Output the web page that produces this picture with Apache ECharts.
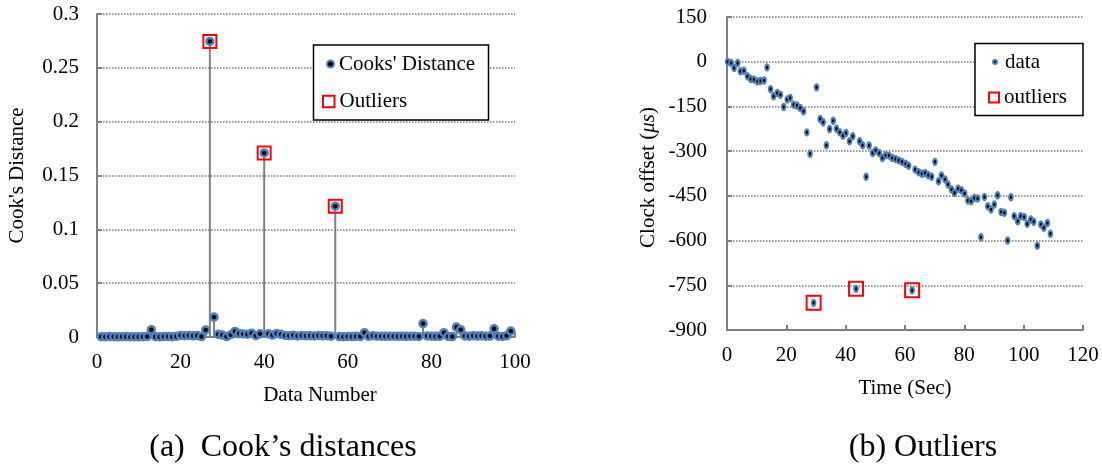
<!DOCTYPE html>
<html>
<head>
<meta charset="utf-8">
<script src="https://cdn.jsdelivr.net/npm/echarts@6/dist/echarts.min.js"></script>
<style>
  html, body { margin: 0; padding: 0; background: #fff; }
  #chart { width: 1102px; height: 470px; }
</style>
</head>
<body>
<div id="chart"></div>
<script>
const FONT = "'Liberation Serif', 'Times New Roman', serif";

// (a) Cook's distances, data number 1..99
const cookX = [];
for (let i = 1; i <= 99; i++) cookX.push(i);
const cookD = [
  0.0003, 0.0002, 0.0004, 0.0003, 0.0002, 0.0003, 0.0004, 0.0002, 0.0003, 0.0002,
  0.0003, 0.0004, 0.0068, 0.0003, 0.0002, 0.0004, 0.0005, 0.0003, 0.0006, 0.0015,
  0.0012, 0.0014, 0.0011, 0.0013, 0.0004, 0.0066, 0.2745, 0.0185, 0.0025, 0.0018,
  0.0004, 0.0021, 0.0052, 0.0032, 0.0028, 0.0026, 0.0035, 0.0012, 0.0030, 0.1710,
  0.0030, 0.0018, 0.0032, 0.0025, 0.0014, 0.0012, 0.0016, 0.0010, 0.0013, 0.0011,
  0.0012, 0.0010, 0.0013, 0.0011, 0.0012, 0.0008, 0.1215, 0.0004, 0.0003, 0.0005,
  0.0004, 0.0006, 0.0005, 0.0040, 0.0006, 0.0012, 0.0008, 0.0007, 0.0006, 0.0008,
  0.0007, 0.0006, 0.0007, 0.0006, 0.0008, 0.0007, 0.0005, 0.0125, 0.0010, 0.0008,
  0.0006, 0.0007, 0.0040, 0.0005, 0.0004, 0.0092, 0.0068, 0.0010, 0.0008, 0.0012,
  0.0009, 0.0011, 0.0008, 0.0009, 0.0076, 0.0007, 0.0005, 0.0012, 0.0055
];
const cookOutX = [27, 40, 57];
const cookOutD = [0.2745, 0.1710, 0.1215];

// (b) clock offset vs time
const timeSec = [
  0.2, 1.4, 2.4, 3.6, 4.5, 5.7, 6.9, 8.0, 9.1, 10.3, 11.3, 12.5, 13.5, 14.7, 15.7, 16.9, 18.0,
  19.1, 20.3, 21.3, 22.5, 23.6, 24.7, 25.8, 26.9, 28.0, 29.2, 30.2, 31.4, 32.4, 33.5, 34.6,
  35.8, 36.9, 38.0, 39.1, 40.1, 41.3, 42.4, 43.5, 44.7, 45.7, 46.9, 47.9, 49.1, 50.1, 51.3,
  52.4, 53.5, 54.6, 55.7, 56.8, 57.9, 59.0, 60.2, 61.2, 62.4, 63.4, 64.6, 65.7, 66.8, 67.9,
  69.0, 70.1, 71.3, 72.3, 73.5, 74.5, 75.7, 76.7, 77.9, 79.0, 80.1, 81.2, 82.3, 83.4, 84.5,
  85.6, 86.8, 87.9, 89.0, 90.1, 91.2, 92.4, 93.5, 94.6, 95.7, 96.8, 98.0, 99.0, 100.2, 101.2,
  102.4, 103.4, 104.6, 105.8, 106.8, 108.0, 109.0
];
const offsetUs = [
  0, -4, -21, -4, -32, -30, -49, -58, -60, -66, -65, -63, -19, -92, -116, -105, -111,
  -152, -127, -122, -144, -147, -155, -166, -237, -309, -809, -86, -192, -203, -280, -226,
  -198, -225, -237, -248, -239, -267, -250, -762, -267, -280, -386, -281, -306, -298, -306,
  -323, -314, -315, -323, -326, -331, -336, -342, -349, -767, -362, -371, -376, -373, -381,
  -386, -336, -401, -382, -395, -412, -429, -440, -426, -431, -442, -466, -468, -457, -459,
  -589, -454, -485, -496, -479, -448, -504, -507, -600, -455, -518, -535, -518, -521, -544,
  -529, -537, -617, -546, -557, -541, -577
];
const outTime = [29.2, 43.5, 62.4];
const outOffset = [-809, -762, -767];

const GRAY = '#808080';
const BLUE = '#4f81bd';
const RED = '#ff0000';

const labelStyle = { fontFamily: FONT, fontSize: 21, color: '#000' };
const tick = { show: true, inside: true, length: 5, lineStyle: { color: GRAY, width: 2 } };
const axLine = { show: true, onZero: false, lineStyle: { color: GRAY, width: 2 } };
const dotted = { show: true, lineStyle: { color: '#999', width: 2, type: [1.5, 1.5] } };

const pairs = (xs, ys) => xs.map((x, i) => [x, ys[i]]);

function legendAt(name, left, top, w, h, extraText) {
  return {
    data: [name], left: left, top: top, padding: 0, orient: 'vertical',
    itemWidth: w, itemHeight: h, selectedMode: false,
    textStyle: Object.assign({ fontFamily: FONT, fontSize: 21, color: '#000', lineHeight: 22 }, extraText || {})
  };
}

const chart = echarts.init(document.getElementById('chart'), null, { renderer: 'canvas' });
chart.setOption({
  animation: false,
  backgroundColor: '#fff',
  grid: [
    { left: 97, top: 14, width: 418, height: 323, outerBoundsMode: 'none' },
    { left: 727, top: 17, width: 356, height: 313, outerBoundsMode: 'none' }
  ],
  xAxis: [
    {
      type: 'value', gridIndex: 0, min: 0, max: 100, interval: 20,
      axisLine: axLine, axisTick: tick, splitLine: { show: false },
      axisLabel: Object.assign({ margin: 15 }, labelStyle),
      name: 'Data Number', nameLocation: 'middle', nameGap: 48,
      nameTextStyle: Object.assign({ padding: [0, 0, 0, 28] }, labelStyle)
    },
    {
      type: 'value', gridIndex: 1, min: 0, max: 120, interval: 20,
      axisLine: axLine, axisTick: tick, splitLine: { show: false },
      axisLabel: Object.assign({ margin: 15 }, labelStyle),
      name: 'Time (Sec)', nameLocation: 'middle', nameGap: 48,
      nameTextStyle: labelStyle
    }
  ],
  yAxis: [
    {
      type: 'value', gridIndex: 0, min: 0, max: 0.3, interval: 0.05,
      axisLine: axLine, axisTick: tick, splitLine: dotted,
      axisLabel: Object.assign({ margin: 18 }, labelStyle),
      name: "Cook's Distance", nameLocation: 'middle', nameGap: 69,
      nameTextStyle: labelStyle
    },
    {
      type: 'value', gridIndex: 1, min: -900, max: 150, interval: 150,
      axisLine: axLine, axisTick: tick, splitLine: dotted,
      axisLabel: Object.assign({ margin: 20 }, labelStyle),
      name: 'Clock offset ({i|μs})', nameLocation: 'middle', nameGap: 68,
      nameTextStyle: Object.assign({
        padding: [0, 8, 0, 0],
        rich: { i: { fontFamily: FONT, fontSize: 21, color: '#000', fontStyle: 'italic' } }
      }, labelStyle)
    }
  ],
  legend: [
    legendAt("Cooks' Distance", 326, 53, 7, 7),
    legendAt('Outliers', 322, 90.5, 11.5, 11.5),
    legendAt('data', 992, 51, 4, 6, { padding: [0, 0, 0, 3] }),
    legendAt('outliers', 988, 86.5, 10, 10)
  ],
  graphic: [
    { type: 'rect', z: 3, shape: { x: 313.5, y: 45, width: 175, height: 75 },
      style: { fill: '#fff', stroke: '#000', lineWidth: 1.5 } },
    { type: 'rect', z: 3, shape: { x: 975, y: 43.5, width: 108, height: 72 },
      style: { fill: '#fff', stroke: '#000', lineWidth: 1.5 } },
    { type: 'text', x: 283, y: 448, z: 3,
      style: { text: '(a)  Cook’s distances', font: '32px ' + FONT, fill: '#000',
               align: 'center', verticalAlign: 'middle' } },
    { type: 'text', x: 923, y: 448, z: 3,
      style: { text: '(b) Outliers', font: '32px ' + FONT, fill: '#000',
               align: 'center', verticalAlign: 'middle' } }
  ],
  series: [
    {
      name: 'stems', type: 'custom', xAxisIndex: 0, yAxisIndex: 0, silent: true, z: 1,
      data: pairs(cookX, cookD),
      renderItem: (params, api) => {
        const p0 = api.coord([api.value(0), 0]);
        const p1 = api.coord([api.value(0), api.value(1)]);
        return {
          type: 'line',
          shape: { x1: p0[0], y1: p0[1], x2: p1[0], y2: p1[1] },
          style: { stroke: GRAY, lineWidth: 2 }
        };
      }
    },
    {
      name: "Cooks' Distance", type: 'scatter', xAxisIndex: 0, yAxisIndex: 0, z: 2,
      symbol: 'circle', symbolSize: 7,
      itemStyle: { color: '#000', borderColor: BLUE, borderWidth: 2.5, opacity: 1 },
      data: pairs(cookX, cookD)
    },
    {
      name: 'Outliers', type: 'scatter', xAxisIndex: 0, yAxisIndex: 0, z: 3,
      symbol: 'rect', symbolSize: 13,
      itemStyle: { color: 'rgba(0,0,0,0)', borderColor: RED, borderWidth: 2, opacity: 1 },
      data: pairs(cookOutX, cookOutD)
    },
    {
      name: 'data', type: 'scatter', xAxisIndex: 1, yAxisIndex: 1, z: 2,
      symbol: 'circle', symbolSize: [4, 6],
      itemStyle: { color: '#000', borderColor: BLUE, borderWidth: 2, opacity: 1 },
      data: pairs(timeSec, offsetUs)
    },
    {
      name: 'outliers', type: 'scatter', xAxisIndex: 1, yAxisIndex: 1, z: 3,
      symbol: 'rect', symbolSize: 14,
      itemStyle: { color: 'rgba(0,0,0,0)', borderColor: RED, borderWidth: 2, opacity: 1 },
      data: pairs(outTime, outOffset)
    }
  ]
});
</script>
</body>
</html>
